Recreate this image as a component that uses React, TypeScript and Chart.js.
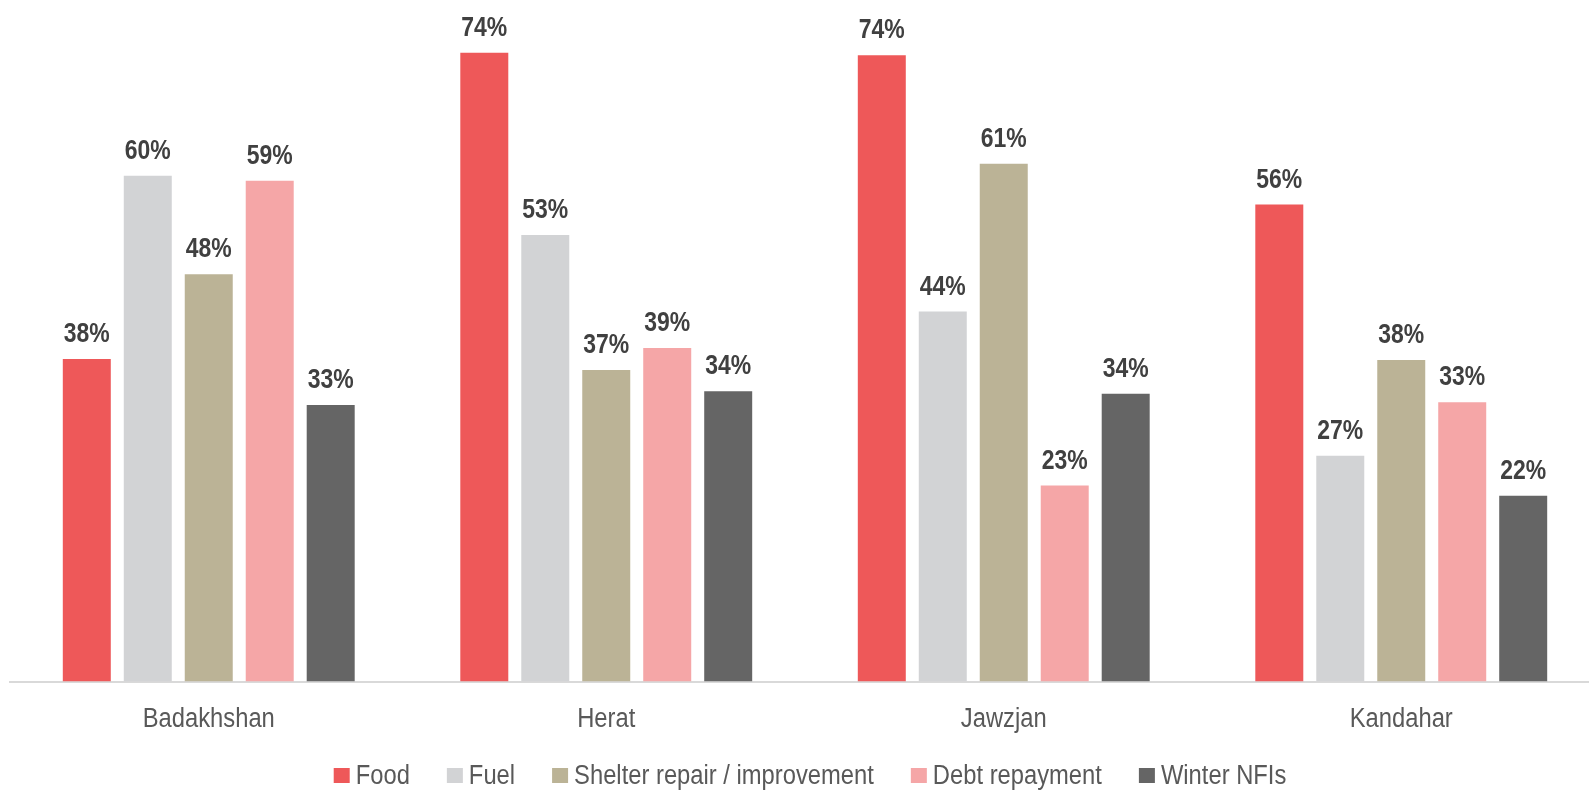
import React, { useEffect, useRef } from "react";
import { Chart, registerables } from "chart.js";

Chart.register(...registerables);

const categories = ["Badakhshan", "Herat", "Jawzjan", "Kandahar"];
const seriesNames = ["Food", "Fuel", "Shelter repair / improvement", "Debt repayment", "Winter NFIs"];
const food = [38.0, 74.1, 73.8, 56.2];
const fuel = [59.6, 52.6, 43.6, 26.6];
const shelter = [48.0, 36.7, 61.0, 37.9];
const debt = [59.0, 39.3, 23.1, 32.9];
const winterNFIs = [32.6, 34.2, 33.9, 21.9];
const seriesColors = ["#EE5859", "#D2D3D5", "#BBB396", "#F5A6A7", "#656565"];

const FONT = "'Liberation Sans', Arial, sans-serif";
const REG_SCALE = 0.88;
const BOLD_SCALE = 0.82;

function drawCondensed(ctx: CanvasRenderingContext2D, text: string, x: number, y: number, sx: number) {
  ctx.save();
  ctx.translate(x, y);
  ctx.scale(sx, 1);
  ctx.fillText(text, 0, 0);
  ctx.restore();
}

const labelPlugin = {
  id: "customText",
  afterDraw(chart: any) {
    const ctx: CanvasRenderingContext2D = chart.ctx;
    ctx.save();
    // value labels
    ctx.font = `bold 28px ${FONT}`;
    ctx.fillStyle = "#404040";
    ctx.textAlign = "center";
    ctx.textBaseline = "alphabetic";
    chart.data.datasets.forEach((ds: any, i: number) => {
      const meta = chart.getDatasetMeta(i);
      meta.data.forEach((el: any, j: number) => {
        drawCondensed(ctx, `${Math.round(ds.data[j])}%`, el.x, el.y - 17, BOLD_SCALE);
      });
    });
    // category labels
    const xs = chart.scales.x;
    ctx.font = `27px ${FONT}`;
    ctx.fillStyle = "#595959";
    categories.forEach((c, i) => {
      drawCondensed(ctx, c, xs.getPixelForTick(i), xs.bottom - 0 + 45 - (xs.bottom - chart.chartArea.bottom), REG_SCALE);
    });
    // legend
    ctx.textAlign = "left";
    const box = 16, boxH = 15, gapBT = 6, gapItem = 37;
    const widths = seriesNames.map((n) => ctx.measureText(n).width * REG_SCALE);
    const total = widths.reduce((a, w) => a + box + gapBT + w, 0) + gapItem * (seriesNames.length - 1);
    let x = chart.width / 2 - total / 2;
    const baseline = 784;
    seriesNames.forEach((n, i) => {
      ctx.fillStyle = seriesColors[i];
      ctx.fillRect(x, baseline - 16, box, boxH);
      x += box + gapBT;
      ctx.fillStyle = "#595959";
      drawCondensed(ctx, n, x, baseline, REG_SCALE);
      x += widths[i] + gapItem;
    });
    ctx.restore();
  },
};

export default function App() {
  const ref = useRef<HTMLCanvasElement | null>(null);
  useEffect(() => {
    if (!ref.current) return;
    const data = [food, fuel, shelter, debt, winterNFIs];
    const chart = new Chart(ref.current, {
      type: "bar",
      data: {
        labels: categories,
        datasets: seriesNames.map((name, i) => ({
          label: name,
          data: data[i],
          backgroundColor: seriesColors[i],
          borderWidth: 0,
          barPercentage: 0.787,
          categoryPercentage: 0.767,
        })),
      },
      options: {
        responsive: false,
        animation: false,
        layout: { padding: { left: 10, right: 20, top: 0, bottom: 37 } },
        plugins: {
          legend: { display: false },
          tooltip: { enabled: false },
        },
        scales: {
          x: {
            grid: { display: false, drawTicks: false },
            border: { display: true, color: "#D9D9D9", width: 2 },
            ticks: {
              color: "rgba(0,0,0,0)",
              font: { family: FONT, size: 27 },
              padding: 20,
            },
          },
          y: {
            display: false,
            min: 0,
            max: 80.3,
          },
        },
      },
      plugins: [labelPlugin],
    });
    return () => chart.destroy();
  }, []);

  return (
    <div style={{ position: "absolute", left: 0, top: 0, width: 1589, height: 791, overflow: "hidden", background: "#fff" }}>
      <canvas ref={ref} width={1620} height={791} style={{ display: "block" }} />
    </div>
  );
}
